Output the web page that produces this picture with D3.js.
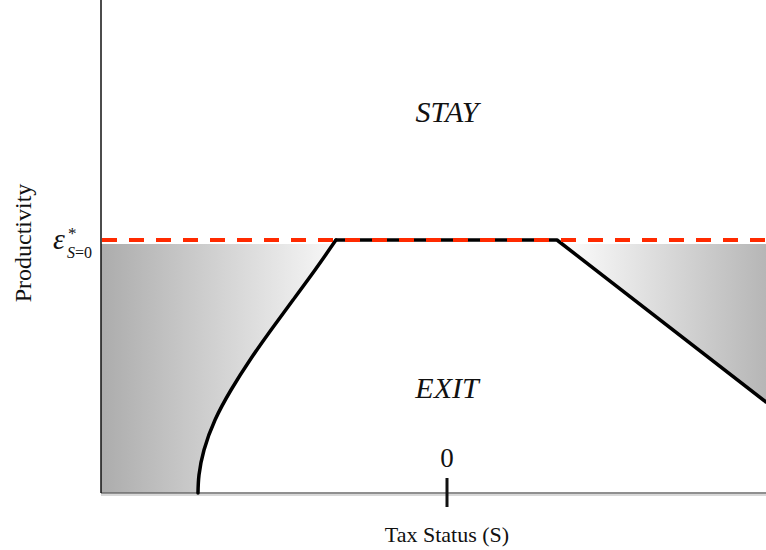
<!DOCTYPE html>
<html>
<head>
<meta charset="utf-8">
<script src="https://cdn.jsdelivr.net/npm/d3@7/dist/d3.min.js"></script>
<style>
  html, body { margin: 0; padding: 0; background: #fff; }
  svg { display: block; }
  text { font-family: "Liberation Serif", "Times New Roman", serif; fill: #111; }
</style>
</head>
<body>
<svg id="chart" width="766" height="550"></svg>
<script>
// ---- data ----
const sDomain = [-3.46, 3.19];           // tax status range shown
const eDomain = [0, 4.93];               // productivity range shown
const threshold = 2.53;                  // epsilon*_{S=0}
const shadeTop = 2.49;                   // top of shaded regions
const leftBoundaryS = [-1.11, -1.32, -1.54, -1.76, -1.97, -2.16, -2.32, -2.43, -2.48, -2.49];
const leftBoundaryE = [2.53, 2.23, 1.93, 1.63, 1.33, 1.03, 0.73, 0.43, 0.18, 0.00];
const rightBoundaryS = [-1.11, 1.10, 3.19];
const rightBoundaryE = [2.53, 2.53, 0.91];
const xTickValues = [0];
const xTickLabels = ["0"];
const regionLabels = ["STAY", "EXIT"];
const regionLabelE = [3.71, 0.95];

// ---- layout ----
const svg = d3.select("#chart");
const x = d3.scaleLinear().domain(sDomain).range([101, 766]);
const y = d3.scaleLinear().domain(eDomain).range([493, 0]);

const leftPts = leftBoundaryS.map((s, i) => [s, leftBoundaryE[i]]);
const rightPts = rightBoundaryS.map((s, i) => [s, rightBoundaryE[i]]);

const defs = svg.append("defs");
const gl = defs.append("linearGradient").attr("id", "gLeft")
  .attr("gradientUnits", "userSpaceOnUse")
  .attr("x1", x(sDomain[0])).attr("x2", x(leftBoundaryS[0])).attr("y1", 0).attr("y2", 0);
gl.append("stop").attr("offset", 0).attr("stop-color", "#acacac");
gl.append("stop").attr("offset", 1).attr("stop-color", "#f8f8f8");
const gr = defs.append("linearGradient").attr("id", "gRight")
  .attr("gradientUnits", "userSpaceOnUse")
  .attr("x1", x(rightBoundaryS[1])).attr("x2", x(sDomain[1])).attr("y1", 0).attr("y2", 0);
gr.append("stop").attr("offset", 0).attr("stop-color", "#ffffff");
gr.append("stop").attr("offset", 1).attr("stop-color", "#b6b6b6");

defs.append("clipPath").attr("id", "shadeClip")
  .append("rect")
  .attr("x", x(sDomain[0])).attr("y", y(shadeTop))
  .attr("width", x(sDomain[1]) - x(sDomain[0]))
  .attr("height", y(0) - y(shadeTop));

const curveLine = d3.line().x(d => x(d[0])).y(d => y(d[1])).curve(d3.curveNatural);
const straightLine = d3.line().x(d => x(d[0])).y(d => y(d[1]));

// shaded regions
const shade = svg.append("g").attr("clip-path", "url(#shadeClip)");
shade.append("path")
  .attr("d", curveLine(leftPts) +
    `L${x(sDomain[0])},${y(0)}L${x(sDomain[0])},${y(threshold)}Z`)
  .attr("fill", "url(#gLeft)");
shade.append("path")
  .attr("d", straightLine([rightPts[1], [sDomain[1], threshold], rightPts[2]]) + "Z")
  .attr("fill", "url(#gRight)");

// axes
svg.append("line")
  .attr("x1", x(sDomain[0])).attr("x2", x(sDomain[1]))
  .attr("y1", y(0) + 2).attr("y2", y(0) + 2)
  .attr("stroke", "#d8d8d8").attr("stroke-width", 2);
svg.append("line")
  .attr("x1", x(sDomain[0])).attr("x2", x(sDomain[1]))
  .attr("y1", y(0)).attr("y2", y(0))
  .attr("stroke", "#6a6a6a").attr("stroke-width", 1.5);
svg.append("line")
  .attr("x1", x(sDomain[0])).attr("x2", x(sDomain[0]))
  .attr("y1", y(eDomain[1])).attr("y2", y(0))
  .attr("stroke", "#111").attr("stroke-width", 1.5);

// tick + label
xTickValues.forEach((v, i) => {
  svg.append("line")
    .attr("x1", x(v)).attr("x2", x(v))
    .attr("y1", y(0) - 15).attr("y2", y(0) + 14)
    .attr("stroke", "#111").attr("stroke-width", 3);
  svg.append("text")
    .attr("x", x(v)).attr("y", y(0) - 26)
    .attr("text-anchor", "middle")
    .attr("font-size", 27)
    .text(xTickLabels[i]);
});

// boundary lines
svg.append("path").attr("d", curveLine(leftPts))
  .attr("fill", "none").attr("stroke", "#000").attr("stroke-width", 3.5)
  .attr("stroke-linecap", "round");
svg.append("path").attr("d", straightLine(rightPts))
  .attr("fill", "none").attr("stroke", "#000").attr("stroke-width", 3.5)
  .attr("stroke-linejoin", "round").attr("stroke-linecap", "round");

// threshold dashed line
svg.append("line")
  .attr("x1", x(sDomain[0]) + 1).attr("x2", x(sDomain[1]))
  .attr("y1", y(threshold)).attr("y2", y(threshold))
  .attr("stroke", "#ff2a00").attr("stroke-width", 4)
  .attr("stroke-dasharray", "15,12");

// region labels
regionLabels.forEach((t, i) => {
  svg.append("text")
    .attr("x", x(0)).attr("y", y(regionLabelE[i]))
    .attr("text-anchor", "middle")
    .attr("font-size", 30).attr("font-style", "italic")
    .text(t);
});

// epsilon label
svg.append("text").attr("x", 53).attr("y", y(threshold) + 9)
  .attr("font-size", 30).attr("font-style", "italic").text("ε");
svg.append("text").attr("x", 68).attr("y", y(threshold) - 1)
  .attr("font-size", 17).text("*");
const sub = svg.append("text").attr("x", 67).attr("y", y(threshold) + 18).attr("font-size", 16);
sub.append("tspan").attr("font-style", "italic").text("S");
sub.append("tspan").text("=0");

// axis titles
svg.append("text")
  .attr("transform", `translate(31, ${y(threshold) + 3}) rotate(-90)`)
  .attr("text-anchor", "middle")
  .attr("font-size", 24)
  .text("Productivity");
svg.append("text")
  .attr("x", x(0)).attr("y", 542)
  .attr("text-anchor", "middle")
  .attr("font-size", 22)
  .text("Tax Status (S)");
</script>
</body>
</html>
